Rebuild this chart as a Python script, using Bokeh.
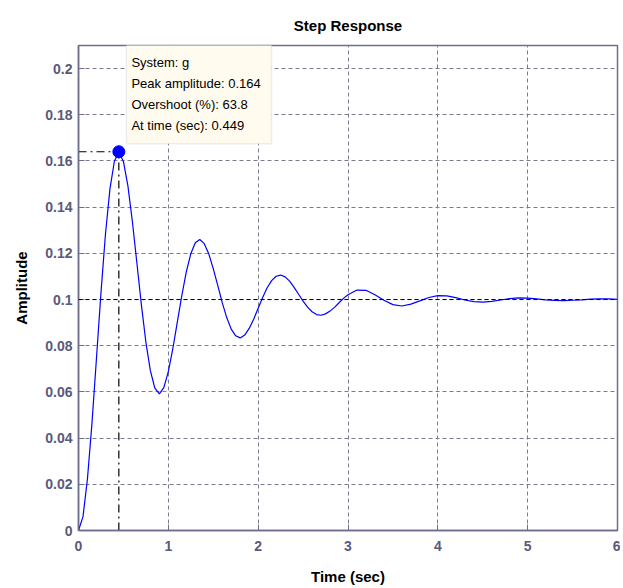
from bokeh.plotting import figure
from bokeh.models import (FixedTicker, CustomJSTickFormatter, BoxAnnotation, Label, Span, ColumnDataSource)
from bokeh.embed import file_html
from bokeh.resources import INLINE

# ---- data ----
time_s = [0.00, 0.05, 0.10, 0.15, 0.20, 0.25, 0.30, 0.35, 0.40, 0.45, 0.50, 0.55, 0.60, 0.65,
          0.70, 0.75, 0.80, 0.85, 0.90, 0.95, 1.00, 1.05, 1.10, 1.15, 1.20, 1.25, 1.30, 1.35,
          1.40, 1.45, 1.50, 1.55, 1.60, 1.65, 1.70, 1.75, 1.80, 1.85, 1.90, 1.95, 2.00, 2.05,
          2.10, 2.15, 2.20, 2.25, 2.30, 2.35, 2.40, 2.45, 2.50, 2.55, 2.60, 2.65, 2.70, 2.75,
          2.80, 2.85, 2.90, 2.95, 3.00, 3.10, 3.20, 3.30, 3.40, 3.50, 3.60, 3.70, 3.80, 3.90,
          4.00, 4.10, 4.20, 4.30, 4.40, 4.50, 4.60, 4.70, 4.80, 4.90, 5.00, 5.10, 5.20, 5.30,
          5.40, 5.50, 5.60, 5.70, 5.80, 5.90, 6.00]
amplitude = [0.0000, 0.0060, 0.0225, 0.0465, 0.0746, 0.1029, 0.1283, 0.1479, 0.1600, 0.1638,
             0.1598, 0.1492, 0.1337, 0.1158, 0.0977, 0.0816, 0.0692, 0.0616, 0.0592, 0.0619,
             0.0688, 0.0787, 0.0902, 0.1017, 0.1120, 0.1198, 0.1246, 0.1260, 0.1242, 0.1198,
             0.1134, 0.1061, 0.0987, 0.0922, 0.0872, 0.0843, 0.0834, 0.0846, 0.0875, 0.0915,
             0.0962, 0.1009, 0.1051, 0.1082, 0.1101, 0.1106, 0.1098, 0.1080, 0.1053, 0.1023,
             0.0993, 0.0967, 0.0947, 0.0935, 0.0932, 0.0938, 0.0950, 0.0966, 0.0986, 0.1005,
             0.1021, 0.1041, 0.1040, 0.1021, 0.0997, 0.0978, 0.0972, 0.0980, 0.0994, 0.1009,
             0.1017, 0.1016, 0.1008, 0.0998, 0.0991, 0.0989, 0.0992, 0.0998, 0.1004, 0.1007,
             0.1006, 0.1003, 0.0999, 0.0996, 0.0995, 0.0997, 0.0999, 0.1002, 0.1003, 0.1003,
             0.1001]
peak_time = 0.449
peak_amplitude = 0.164
overshoot_pct = 63.8
final_value = 0.1
system_name = "g"
x_ticks = [0, 1, 2, 3, 4, 5, 6]
y_ticks = [0, 0.02, 0.04, 0.06, 0.08, 0.1, 0.12, 0.14, 0.16, 0.18, 0.2]

AXIS_COL = "#6e6e90"
GRID_COL = "#7a7a92"
TICK_TXT = "#5a5a7c"
FONT = "Liberation Sans"

p = figure(width=620, height=580, frame_width=539, frame_height=485,
           x_range=(0, 6), y_range=(0, 0.21),
           output_backend="svg", toolbar_location=None,
           min_border_left=78, min_border_right=3, min_border_top=45, min_border_bottom=50,
           title="Step Response")
p.title.align = "center"
p.title.text_font = FONT
p.title.text_font_size = "15px"
p.title.text_font_style = "bold"
p.title.text_color = "black"
p.title.standoff = 23

p.background_fill_color = "white"
p.border_fill_color = "white"
p.outline_line_color = AXIS_COL
p.outline_line_width = 1.5

for ax in (p.xaxis[0], p.yaxis[0]):
    ax.axis_line_color = AXIS_COL
    ax.axis_line_width = 1.5
    ax.major_tick_line_color = AXIS_COL
    ax.major_tick_in = 6
    ax.major_tick_out = 0
    ax.minor_tick_line_color = None
    ax.major_label_text_font = FONT
    ax.major_label_text_font_size = "14px"
    ax.major_label_text_font_style = "bold"
    ax.major_label_text_color = TICK_TXT
    ax.axis_label_text_font = FONT
    ax.axis_label_text_font_size = "15px"
    ax.axis_label_text_font_style = "bold"
    ax.axis_label_text_color = "black"

p.xaxis[0].ticker = FixedTicker(ticks=x_ticks)
p.yaxis[0].ticker = FixedTicker(ticks=y_ticks)
p.yaxis[0].formatter = CustomJSTickFormatter(
    code="return tick.toFixed(2).replace(/0+$/, '').replace(/\\.$/, '');")
p.xaxis[0].axis_label = "Time (sec)"
p.yaxis[0].axis_label = "Amplitude"
p.xaxis[0].major_label_standoff = 10
p.yaxis[0].major_label_standoff = 6
p.xaxis[0].axis_label_standoff = 14
p.yaxis[0].axis_label_standoff = 12

p.xgrid.grid_line_color = GRID_COL
p.ygrid.grid_line_color = GRID_COL
p.xgrid.grid_line_dash = "4 3"
p.ygrid.grid_line_dash = "4 3"

# steady-state line
p.add_layout(Span(location=final_value, dimension="width", line_color="black",
                  line_dash="4 3", line_width=1))

# curve
src = ColumnDataSource(dict(t=time_s, a=amplitude))
p.line("t", "a", source=src, line_color="#0000ff", line_width=1.2)

# peak markers (dash-dot)
p.line([0, peak_time], [peak_amplitude, peak_amplitude], line_color="black",
       line_dash="8 4 2 4", line_width=1.2)
p.line([peak_time, peak_time], [0, peak_amplitude], line_color="black",
       line_dash="8 4 2 4", line_width=1.2)
p.scatter([peak_time], [peak_amplitude], size=12, color="#0000ff")

# data tip box
box_left = peak_time + 0.085
box_right = peak_time + 1.70
box_top = 0.2105
box_bottom = peak_amplitude + 0.0035
p.add_layout(BoxAnnotation(left=box_left, right=box_right, top=box_top, bottom=box_bottom,
                           fill_color="#fffbee", fill_alpha=1.0,
                           line_color="#c8c8c8", line_width=1.5, level="overlay"))
tip_lines = ["System: %s" % system_name,
             "Peak amplitude: %.3f" % peak_amplitude,
             "Overshoot (%%): %.1f" % overshoot_pct,
             "At time (sec): %.3f" % peak_time]
line_step = 0.00909
for i, txt in enumerate(tip_lines):
    p.add_layout(Label(x=box_left + 0.055, y=box_top - 0.0080 - i * line_step, text=txt,
                       text_font=FONT, text_font_size="13px",
                       text_baseline="middle", text_color="black", level="overlay"))

open("out.html", "w").write(file_html(p, INLINE))
